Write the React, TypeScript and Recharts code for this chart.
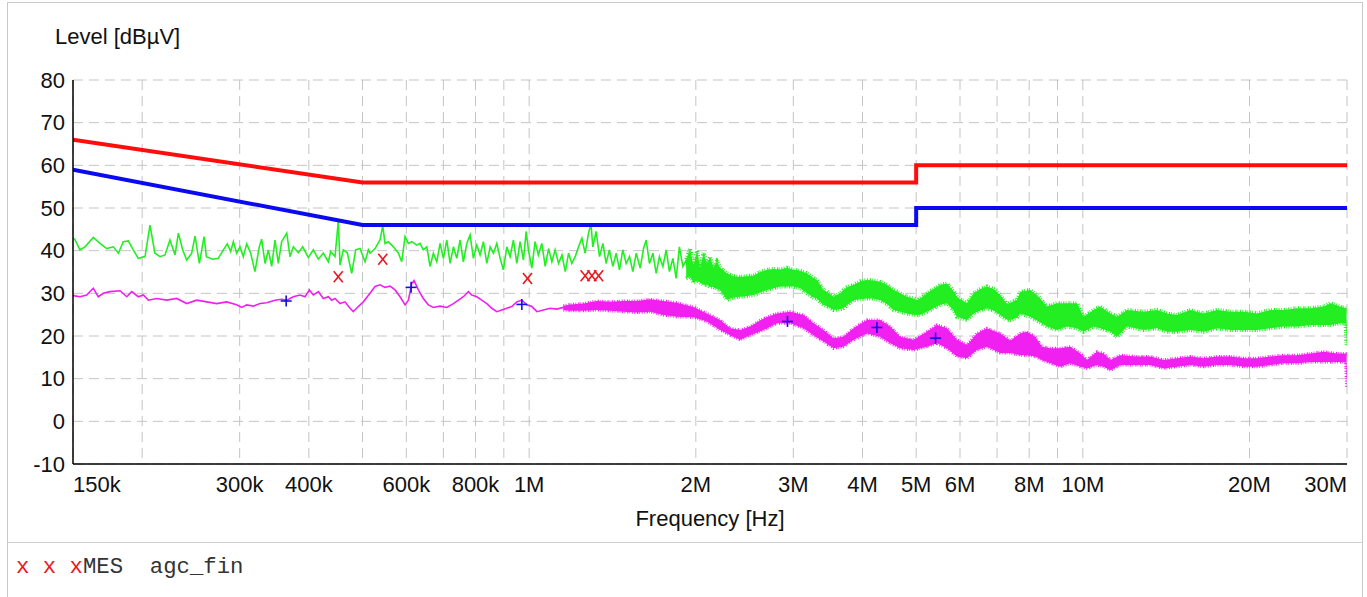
import React from 'react';
import { ComposedChart, Line, Area, Scatter, XAxis, YAxis, CartesianGrid } from 'recharts';

const W = 1367;
const H = 597;
const SANS = '"Liberation Sans", Arial, Helvetica, sans-serif';
const MONO = '"Liberation Mono", "Courier New", monospace';

// Frequencies in kHz
const xGridTicks = [150, 200, 300, 400, 500, 600, 700, 800, 900, 1000, 2000, 3000, 4000, 5000, 6000, 7000, 8000, 9000, 10000, 20000, 30000];
const xTickLabels: Record<number, string> = {
  150: '150k', 300: '300k', 400: '400k', 600: '600k', 800: '800k', 1000: '1M',
  2000: '2M', 3000: '3M', 4000: '4M', 5000: '5M', 6000: '6M', 8000: '8M',
  10000: '10M', 20000: '20M', 30000: '30M',
};
const yTicks = [-10, 0, 10, 20, 30, 40, 50, 60, 70, 80];

// Limit lines [kHz, dBuV]
const limitQP: [number, number][] = [[150, 66], [500, 56], [5000, 56], [5000, 60], [30000, 60]];
const limitAV: [number, number][] = [[150, 59], [500, 46], [5000, 46], [5000, 50], [30000, 50]];

// Peak trace (green), low-frequency part [kHz, dBuV]
const peakTrace: [number, number][] = [
  [150, 43.0], [151.3, 42.5], [154.4, 40.2], [157.7, 40.9], [163.2, 43.1], [167.8, 41.7], [172.6, 40.5],
  [177.4, 40.9], [181.2, 39.4], [184.9, 42.1], [188.8, 42.3], [192.7, 40.2], [196.8, 38.2], [202.4, 38.6],
  [206.6, 46.0], [210.9, 39.4], [215.4, 38.6], [219.9, 39.0], [224.5, 42.5], [229.3, 39.0], [232.5, 44.1],
  [236.7, 40.2], [240.7, 37.8], [245.7, 39.4], [249.2, 43.4], [253.7, 37.0], [258.7, 43.3], [261.2, 38.6],
  [268.2, 38.0], [274.5, 38.2], [280.3, 40.2], [285.0, 41.6], [289.0, 39.8], [292.2, 42.1], [296.3, 39.4],
  [300.4, 40.9], [304.6, 38.6], [308.9, 41.6], [314.1, 39.4], [319.7, 35.1], [325.5, 40.9], [328.7, 42.7],
  [333.4, 37.0], [338.0, 40.2], [342.7, 36.3], [347.5, 42.5], [352.3, 37.0], [357.2, 42.1], [364.9, 44.1],
  [369.9, 38.6], [375.0, 40.9], [382.9, 39.5], [389.9, 40.9], [399.1, 38.4], [407.5, 40.2], [416.1, 38.0],
  [424.8, 39.4], [433.8, 37.4], [438.0, 39.8], [446.0, 38.6], [452.2, 47.0], [455.4, 36.6], [461.7, 40.2],
  [469.4, 39.5], [478.0, 34.7], [486.1, 40.2], [494.9, 40.5], [505.3, 37.4], [512.3, 40.2], [515.9, 39.4],
  [526.8, 40.5], [537.8, 42.5], [543.9, 45.8], [549.1, 41.7], [556.7, 42.1], [568.5, 40.9], [580.5, 39.4],
  [588.6, 37.4], [596.8, 43.3], [605.1, 41.7], [613.6, 42.1], [626.6, 41.3], [635.2, 41.7], [643.8, 40.2],
  [653.2, 40.9], [662.2, 36.3], [671.4, 39.4], [681.0, 37.4], [690.4, 41.7], [700.0, 38.2], [709.9, 42.5],
  [719.8, 37.0], [729.7, 40.9], [740.1, 38.2], [750.3, 42.5], [760.7, 37.4], [771.5, 41.7], [782.1, 43.7],
  [793.0, 38.2], [804.3, 41.3], [815.4, 39.0], [826.7, 42.1], [838.5, 37.0], [850.1, 40.9], [861.9, 39.4],
  [874.1, 41.7], [886.2, 38.2], [898.4, 35.5], [911.2, 40.9], [923.8, 38.6], [936.6, 42.5], [949.9, 37.0],
  [963.0, 42.1], [976.4, 37.8], [987.5, 44.5], [996.9, 40.2], [1011, 35.9], [1025, 42.1], [1039, 39.0],
  [1054, 41.7], [1069, 36.3], [1084, 40.5], [1099, 37.4], [1114, 40.2], [1130, 37.0], [1146, 39.0],
  [1162, 35.1], [1178, 39.4], [1194, 37.0], [1211, 38.6], [1228, 40.9], [1245, 42.9], [1262, 39.4],
  [1280, 44.1], [1293, 46.3], [1303, 40.9], [1321, 44.5], [1340, 38.6], [1359, 41.7], [1377, 37.0],
  [1396, 40.2], [1416, 36.3], [1436, 39.4], [1456, 35.5], [1476, 40.2], [1497, 37.0], [1518, 38.6],
  [1539, 35.1], [1561, 39.4], [1587, 35.9], [1609, 40.5], [1627, 42.5], [1649, 37.0], [1673, 39.4],
  [1696, 34.7], [1719, 38.6], [1744, 36.3], [1768, 40.2], [1792, 35.1], [1818, 38.2], [1843, 33.5],
  [1868, 40.9], [1895, 36.3], [1921, 37.8], [1947, 33.9],
];

// Peak trace (green), dense high-frequency part [kHz, low, high]
const peakBand: [number, number, number][] = [
  [1921, 33.5, 38.0], [1953, 34.0, 40.5], [1980, 32.5, 36.5], [2011, 33.0, 40.0], [2036, 32.5, 36.0],
  [2065, 32.0, 39.5], [2094, 32.0, 37.0], [2123, 31.5, 38.5], [2152, 31.5, 36.0], [2183, 31.0, 37.5],
  [2213, 30.8, 36.0], [2276, 28.5, 34.7], [2339, 29.0, 34.0], [2405, 29.2, 33.9], [2473, 29.4, 34.0],
  [2542, 29.6, 34.2], [2614, 30.2, 35.0], [2688, 30.8, 35.5], [2762, 31.2, 35.7], [2841, 31.6, 35.6],
  [2921, 31.6, 36.0], [3002, 31.6, 35.5], [3087, 31.2, 35.3], [3174, 30.0, 34.7], [3263, 29.0, 33.6],
  [3309, 28.8, 33.1], [3355, 28.0, 32.0], [3401, 27.3, 30.8], [3450, 27.0, 30.4], [3546, 26.1, 29.2],
  [3646, 26.3, 30.0], [3697, 26.5, 30.8], [3749, 27.2, 31.4], [3854, 28.4, 32.0], [3962, 28.6, 32.8],
  [4074, 28.8, 33.1], [4187, 28.8, 33.0], [4306, 28.4, 32.7], [4427, 27.5, 32.0], [4551, 26.1, 30.8],
  [4679, 25.7, 30.0], [4811, 25.3, 29.2], [4946, 25.0, 28.8], [5016, 24.9, 28.4], [5086, 25.0, 28.8],
  [5230, 25.7, 30.0], [5376, 26.5, 31.0], [5527, 27.3, 32.0], [5683, 27.7, 32.3], [5842, 26.0, 30.5],
  [5924, 24.5, 29.2], [6007, 24.2, 28.6], [6176, 23.75, 27.7], [6349, 25.3, 30.0], [6528, 26.0, 31.0],
  [6712, 26.5, 31.6], [6900, 26.0, 31.0], [7094, 24.9, 29.6], [7295, 23.8, 27.5], [7396, 23.75, 27.8],
  [7604, 24.3, 28.5], [7710, 25.3, 30.4], [8037, 24.5, 30.8], [8319, 23.4, 29.2], [8615, 22.2, 26.9],
  [8982, 21.4, 27.7], [9363, 22.2, 27.7], [9761, 21.8, 27.7], [10030, 21.0, 24.5], [10460, 22.2, 26.1],
  [10750, 21.8, 26.9], [11220, 21.0, 25.3], [11530, 19.8, 24.5], [12020, 22.2, 26.1], [12880, 21.4, 25.7],
  [13620, 21.8, 26.1], [14200, 21.0, 25.3], [14800, 21.0, 24.9], [15630, 21.4, 26.1], [16530, 21.0, 25.3],
  [17480, 21.8, 26.1], [18480, 21.4, 25.7], [19530, 21.4, 25.7], [20650, 21.4, 25.3], [21820, 21.8, 26.1],
  [23070, 22.2, 26.1], [24390, 22.2, 26.5], [25780, 22.6, 26.5], [27240, 22.6, 26.9], [28020, 22.6, 27.7],
  [29200, 23.0, 26.9], [29820, 23.0, 26.5], [29950, 17.9, 26.5],
];

// Average trace (magenta), low-frequency part [kHz, dBuV]
const avgTrace: [number, number][] = [
  [150, 29.5], [151.3, 29.4], [154.4, 29.2], [158.8, 29.6], [163.2, 31.2], [166.6, 29.2], [170.1, 30.0],
  [174.9, 30.4], [182.4, 30.6], [187.6, 29.2], [191.5, 30.4], [196.8, 29.2], [201.0, 29.6], [205.2, 28.4],
  [212.4, 28.8], [221.5, 28.4], [230.9, 28.8], [240.7, 27.6], [250.9, 28.4], [261.6, 28.0], [272.7, 27.6],
  [284.2, 28.0], [296.3, 27.3], [302.5, 26.7], [308.9, 27.3], [317.5, 27.0], [326.5, 27.6], [335.7, 27.8],
  [347.5, 28.4], [357.2, 28.6], [364.9, 28.4], [375.0, 29.2], [385.6, 29.6], [393.7, 29.2], [400.8, 30.8],
  [407.5, 29.6], [416.1, 30.4], [424.8, 28.8], [433.8, 29.2], [439.8, 28.4], [446.0, 28.8], [455.4, 27.6],
  [465.0, 28.0], [474.7, 26.5], [481.3, 25.7], [491.4, 26.9], [501.7, 28.0], [515.9, 30.0], [526.8, 31.6],
  [537.8, 32.0], [549.1, 31.4], [560.7, 31.7], [572.5, 30.8], [584.6, 29.2], [596.8, 27.3], [605.1, 28.4],
  [613.6, 32.3], [619.6, 33.0], [630.8, 30.8], [643.8, 28.8], [657.5, 27.3], [671.4, 26.7], [690.4, 27.0],
  [709.9, 26.7], [729.7, 27.6], [745.1, 28.4], [760.7, 29.2], [776.6, 30.4], [787.5, 29.6], [804.3, 29.2],
  [821.0, 28.4], [838.5, 27.6], [855.9, 26.5], [874.1, 25.7], [892.3, 26.1], [911.2, 26.5], [930.1, 26.9],
  [949.9, 28.0], [969.6, 28.4], [990.3, 27.3], [1011, 26.9], [1033, 25.7], [1061, 26.1], [1091, 26.5],
  [1122, 26.3], [1153, 26.7], [1186, 26.5],
];

// Average trace (magenta), dense high-frequency part [kHz, low, high]
const avgBand: [number, number, number][] = [
  [1153, 26.1, 27.1], [1186, 25.9, 27.4], [1253, 25.9, 27.6], [1325, 26.1, 28.2], [1401, 25.9, 28.0],
  [1480, 25.7, 28.2], [1565, 25.5, 28.2], [1654, 25.7, 28.6], [1748, 24.9, 28.2], [1848, 24.5, 27.8],
  [1980, 24.4, 26.8], [2094, 23.4, 25.3], [2213, 21.4, 23.75], [2307, 20.2, 21.8], [2405, 19.1, 21.4],
  [2507, 20.2, 22.2], [2650, 21.4, 24.1], [2801, 23.0, 25.3], [2961, 23.0, 25.7], [3130, 21.8, 24.9],
  [3263, 20.2, 23.0], [3401, 18.7, 21.4], [3546, 17.1, 19.5], [3697, 17.5, 19.8], [3854, 19.1, 21.8],
  [4074, 20.6, 23.75], [4306, 19.8, 23.75], [4489, 18.3, 22.2], [4679, 17.1, 19.8], [4946, 16.7, 19.1],
  [5230, 17.5, 21.0], [5452, 18.3, 22.6], [5683, 17.1, 21.8], [5924, 15.2, 19.1], [6176, 14.8, 17.9],
  [6439, 16.7, 20.6], [6712, 17.5, 21.8], [7094, 16.0, 20.6], [7396, 16.0, 18.9], [7710, 15.5, 20.6],
  [7928, 15.5, 21.0], [8206, 15.2, 19.8], [8438, 14.4, 17.5], [8735, 13.6, 17.1], [9106, 12.8, 17.1],
  [9493, 13.6, 17.5], [9896, 12.8, 15.9], [10180, 12.4, 14.4], [10600, 13.2, 16.3], [10900, 12.8, 15.9],
  [11220, 12.0, 14.4], [11690, 13.2, 15.5], [12520, 13.2, 15.2], [13240, 13.2, 15.2], [14000, 12.4, 14.4],
  [14800, 12.8, 14.8], [15630, 13.2, 15.2], [16530, 12.8, 14.8], [17480, 13.2, 15.2], [18480, 13.2, 15.2],
  [19530, 12.8, 14.8], [20650, 12.8, 14.8], [21820, 13.2, 15.2], [23070, 13.6, 15.5], [24390, 13.6, 15.5],
  [25780, 13.9, 15.9], [27240, 13.9, 16.3], [28810, 13.9, 15.9], [29820, 13.9, 15.9], [29950, 8.1, 15.9],
];

// Final measurement markers [kHz, dBuV]
const mesMarks: [number, number][] = [[452, 33.9], [544, 38.0], [993, 33.5], [1262, 34.1], [1298, 34.1], [1335, 34.1]];
const avgMarks: [number, number][] = [[364, 28.2], [612, 31.4], [970, 27.4], [2928, 23.4], [4247, 22.0], [5420, 19.5]];

const toPts = (a: [number, number][]) => a.map(([f, v]) => ({ f, v }));
const toBand = (a: [number, number, number][]) => a.map(([f, lo, hi]) => ({ f, r: [lo, hi] }));

const XTick = (props: any) => {
  const { x, y, payload } = props;
  const label = xTickLabels[payload.value];
  if (!label) return <g />;
  const anchor = payload.value === 150 ? 'start' : payload.value === 30000 ? 'end' : 'middle';
  return (
    <text x={x} y={y} dy="0.71em" textAnchor={anchor} fontSize={22} fontFamily={SANS} fill="#111">
      {label}
    </text>
  );
};

const YTick = (props: any) => {
  const { x, y, payload } = props;
  return (
    <text x={x} y={y} dy="0.355em" textAnchor="end" fontSize={22} fontFamily={SANS} fill="#111">
      {payload.value}
    </text>
  );
};

const CrossX = (p: any) => {
  const { cx, cy } = p;
  if (cx == null || cy == null) return <g />;
  return (
    <g>
      <line x1={cx - 4.5} y1={cy - 5.5} x2={cx + 4.5} y2={cy + 5.5} stroke="#e8191e" strokeWidth={1.6} />
      <line x1={cx + 4.5} y1={cy - 5.5} x2={cx - 4.5} y2={cy + 5.5} stroke="#e8191e" strokeWidth={1.6} />
    </g>
  );
};

const Plus = (p: any) => {
  const { cx, cy } = p;
  if (cx == null || cy == null) return <g />;
  return (
    <g>
      <line x1={cx - 5.5} y1={cy} x2={cx + 5.5} y2={cy} stroke="#1010e0" strokeWidth={1.6} />
      <line x1={cx} y1={cy - 5.5} x2={cx} y2={cy + 5.5} stroke="#1010e0" strokeWidth={1.6} />
    </g>
  );
};

const GREEN = '#22ee22';
const MAGENTA = '#f020f0';
const NOISE_DASH = '1 1.4 0.8 2 1.2 1 0.7 1.7';

export default function App() {
  return (
    <div style={{ position: 'absolute', left: 0, top: 0, width: W, height: H, background: '#fff', overflow: 'hidden' }}>
      <ComposedChart width={W} height={H} margin={{ top: 80, right: 20, left: 0, bottom: 0 }}>
        <CartesianGrid stroke="#c4c4c4" strokeDasharray="10 6" strokeWidth={1} />
        <XAxis
          dataKey="f"
          type="number"
          scale="log"
          domain={[150, 30000]}
          allowDataOverflow
          ticks={xGridTicks}
          interval={0}
          height={133}
          tickSize={0}
          tickMargin={12}
          tick={<XTick />}
          axisLine={{ stroke: '#000', strokeWidth: 1.5 }}
          tickLine={false}
        />
        <YAxis
          type="number"
          domain={[-10, 80]}
          allowDataOverflow
          ticks={yTicks}
          interval={0}
          width={73}
          tickSize={0}
          tickMargin={8}
          tick={<YTick />}
          axisLine={{ stroke: '#000', strokeWidth: 1.5 }}
          tickLine={false}
        />
        <Area data={toBand(peakBand)} dataKey="r" type="linear" stroke={GREEN} strokeWidth={4} strokeDasharray={NOISE_DASH} fill={GREEN} fillOpacity={1} isAnimationActive={false} dot={false} activeDot={false} />
        <Line data={toPts(peakTrace)} dataKey="v" type="linear" stroke={GREEN} strokeWidth={1.6} dot={false} activeDot={false} isAnimationActive={false} />
        <Area data={toBand(avgBand)} dataKey="r" type="linear" stroke={MAGENTA} strokeWidth={3} strokeDasharray={NOISE_DASH} fill={MAGENTA} fillOpacity={1} isAnimationActive={false} dot={false} activeDot={false} />
        <Line data={toPts(avgTrace)} dataKey="v" type="linear" stroke={MAGENTA} strokeWidth={1.6} dot={false} activeDot={false} isAnimationActive={false} />
        <Line data={toPts(limitQP)} dataKey="v" type="linear" stroke="#ff0d0d" strokeWidth={4} dot={false} activeDot={false} isAnimationActive={false} />
        <Line data={toPts(limitAV)} dataKey="v" type="linear" stroke="#0a0af0" strokeWidth={4} dot={false} activeDot={false} isAnimationActive={false} />
        <Scatter data={toPts(mesMarks)} dataKey="v" shape={<CrossX />} isAnimationActive={false} />
        <Scatter data={toPts(avgMarks)} dataKey="v" shape={<Plus />} isAnimationActive={false} />
      </ComposedChart>
      <svg width={W} height={H} style={{ position: 'absolute', left: 0, top: 0, pointerEvents: 'none' }}>
        <rect x={7.5} y={2.5} width={1355} height={700} fill="none" stroke="#c8c8c8" strokeWidth={1} />
        <line x1={7.5} y1={542.5} x2={1362.5} y2={542.5} stroke="#cfcfcf" strokeWidth={1} />
        <text x={55} y={44} fontSize={22} fontFamily={SANS} fill="#111">Level [dBµV]</text>
        <text x={710} y={526} fontSize={22} fontFamily={SANS} fill="#111" textAnchor="middle">Frequency [Hz]</text>
        <text x={16} y={573} fontSize={22.3} fontFamily={MONO} fill="#333" xmlSpace="preserve">
          <tspan fill="#e8191e">x x x</tspan>
          <tspan>MES  agc_fin</tspan>
        </text>
      </svg>
    </div>
  );
}
